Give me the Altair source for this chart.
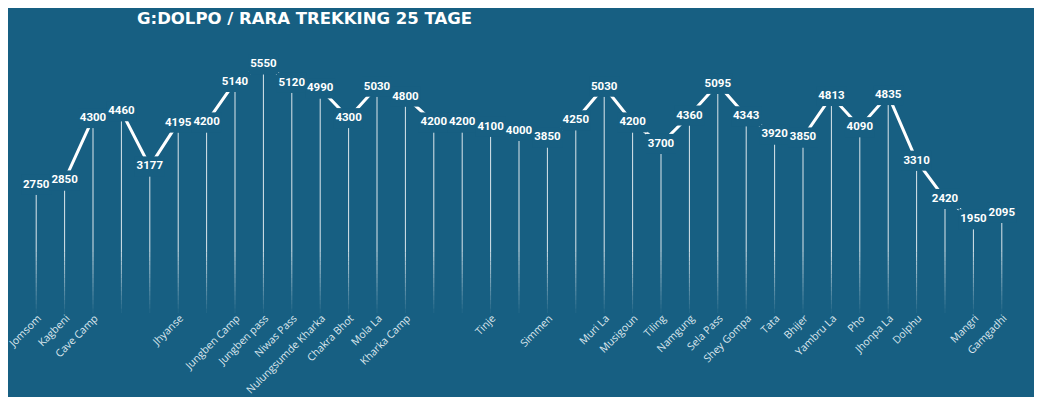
import json
import altair as alt
import pandas as pd

# data
stop_index = list(range(35))
elevation = [2750, 2850, 4300, 4460, 3177, 4195, 4200, 5140, 5550, 5120,
             4990, 4300, 5030, 4800, 4200, 4200, 4100, 4000, 3850, 4250,
             5030, 4200, 3700, 4360, 5095, 4343, 3920, 3850, 4813, 4090,
             4835, 3310, 2420, 1950, 2095]
place_names = ["Jomsom", "Kagbeni", "Cave Camp", "", "", "Jhyanse", "",
               "Jungben Camp", "Jungben pass", "Niwas Pass", "Nulungsumde Kharka",
               "Chakra Bhot", "Mola La", "Kharka Camp", "", "", "Tinje", "",
               "Simmen", "", "Muri La", "Musigoun", "Tiling", "Namgung",
               "Sela Pass", "Shey Gompa", "Tata", "Bhijer", "Yambru La", "Pho",
               "Jhonpa La", "Dolphu", "", "Mangri", "Gamgadhi"]
title_text = "G:DOLPO / RARA TREKKING 25 TAGE"

BG = "#175f82"
W, H = 994, 258

df = pd.DataFrame({"i": stop_index, "elev": elevation})

x = alt.X("i:O",
          scale=alt.Scale(paddingInner=0, paddingOuter=0, round=False),
          axis=alt.Axis(title=None,
                        labelExpr=json.dumps(place_names) + "[datum.value]",
                        labelAngle=-45, labelAlign="right", labelBaseline="top",
                        labelPadding=0, ticks=False, domain=False,
                        grid=False, labelColor="#dde7ee", labelFont="Open Sans",
                        labelFontSize=10.5))
yscale = alt.Scale(domain=[0, 6000], nice=False, zero=True)
y = alt.Y("elev:Q", scale=yscale, axis=None)

base = alt.Chart(df).encode(x=x, y=y)

# drop lines: solid upper part, then fading steps toward the bottom
FADE_TOP, STEP, N = 1400, 100, 14
bars = base.transform_calculate(ft=str(FADE_TOP)).mark_bar(
    width=1, color="white", opacity=0.85).encode(y2="ft:Q")
fade_layers = []
for k in range(N):
    hi = FADE_TOP - k * STEP
    lo = hi - STEP
    fade_layers.append(
        alt.Chart(df).transform_calculate(hi=str(hi), lo=str(lo)).mark_bar(
            width=1, color="white", opacity=0.85 * (1 - (k + 1) / (N + 1))
        ).encode(x=x, y=alt.Y("hi:Q", scale=yscale, axis=None), y2="lo:Q")
    )

line = base.mark_line(color="white", strokeWidth=3, yOffset=-10)

masks = base.mark_point(shape="M-1,-0.667H1V0.667H-1Z", size=900, filled=True,
                        fill=BG, opacity=1, strokeWidth=0, yOffset=-10)

labels = base.mark_text(font="Roboto", fontWeight="bold", fontSize=11.5,
                        color="white", dy=-10, baseline="middle").encode(text="elev:Q")

chart = alt.layer(bars, *fade_layers, line, masks, labels).properties(
    width=W, height=H,
    autosize=alt.AutoSizeParams(type="none"),
    padding={"left": 14, "top": 47, "right": 18, "bottom": 84},
    background=BG,
    title=alt.Title(title_text, anchor="start", dx=115, offset=27, frame="group",
                    font="DejaVu Sans", fontSize=16.5, fontWeight="bold", color="white"),
).configure_view(stroke=None)

chart.save("out.html", embed_options={"renderer": "svg", "actions": False})
